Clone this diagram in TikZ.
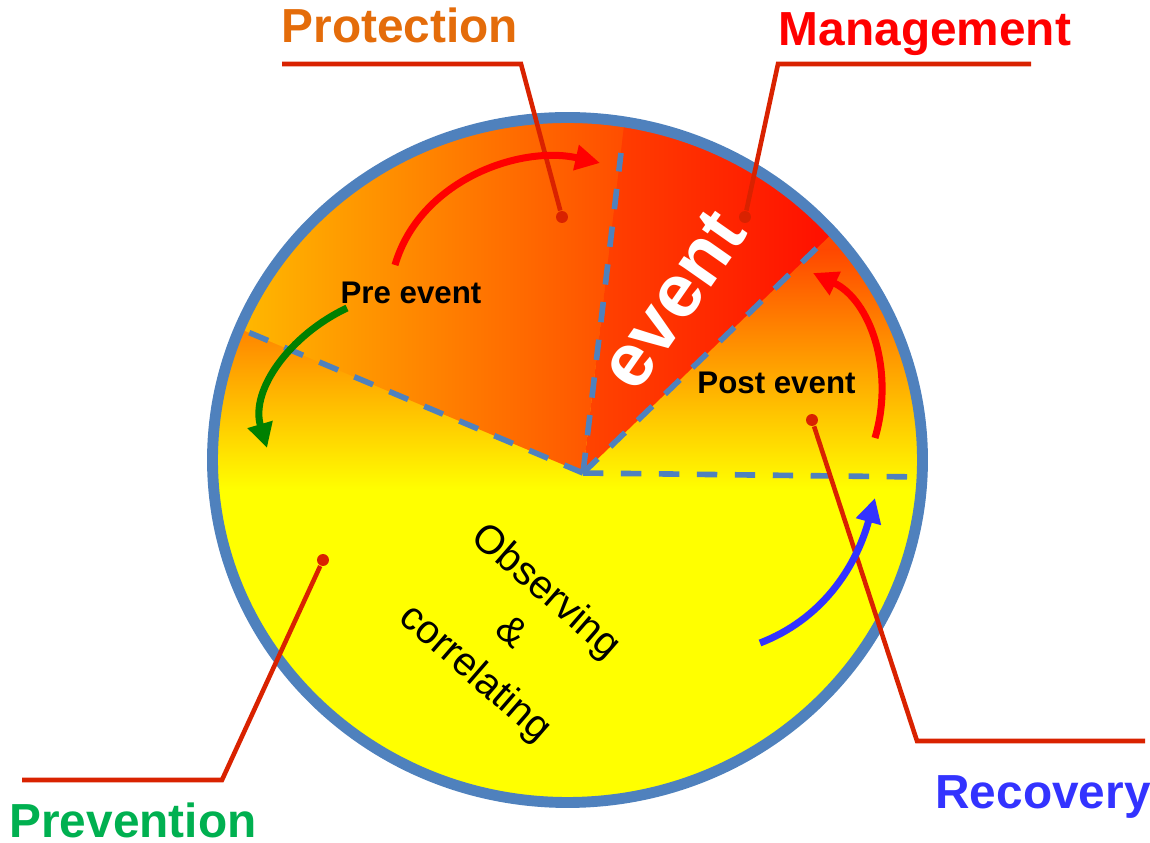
\documentclass[tikz,border=0pt]{standalone}
\usepackage{fontspec}
\setmainfont{Liberation Sans}
\usetikzlibrary{arrows.meta}
\definecolor{ringBlue}{RGB}{79,129,189}
\definecolor{leadRed}{RGB}{217,34,0}
\definecolor{protOrange}{RGB}{228,108,10}
\definecolor{prevGreen}{RGB}{0,176,80}
\definecolor{recBlue}{RGB}{51,51,255}
\definecolor{arcGreen}{RGB}{0,128,0}
\definecolor{arcRed}{RGB}{255,0,0}
\definecolor{sunYellow}{RGB}{255,255,0}
\definecolor{warmOrange}{RGB}{255,72,0}
\definecolor{wedgeLeft}{RGB}{255,184,0}
\definecolor{wedgeRight}{RGB}{255,76,0}
\definecolor{eventLeft}{RGB}{255,70,0}
\definecolor{eventRight}{RGB}{255,0,0}
\tikzset{
    divider/.style={
        draw=ringBlue,
        line width=1.6pt,
        dash pattern=on 5.8pt off 5pt
    },
    leader/.style={
        draw=leadRed,
        line width=1.3pt
    },
    pin/.style={
        circle,
        fill=leadRed,
        inner sep=0pt,
        minimum size=3.4pt
    },
    turn/.style={
        line width=2pt,
        -{Triangle[length=7pt, width=7pt]}
    },
    phase/.style={
        font=\bfseries\fontsize{13.6}{16}\selectfont,
        anchor=base,
        inner sep=0pt
    },
    stage/.style={
        font=\bfseries\fontsize{8.9}{10}\selectfont,
        anchor=base
    }
}

\begin{document}
\begin{tikzpicture}[x=0.1mm, y=-0.1mm]
    \useasboundingbox (0,0) rectangle (1150,843);

    % Disc fill
    \begin{scope}
        \clip (567.5,460) ellipse [x radius=355, y radius=342.5];
        \fill[sunYellow] (200,100) rectangle (940,820);
        \fill[warmOrange] (200,100) rectangle (940,251);
        \shade[top color=warmOrange, bottom color=sunYellow] (200,250) rectangle (940,490);
        % Pre event wedge
        \begin{scope}
            \clip (583,473) -- (150,291) -- (150,50) -- (633,50) -- cycle;
            \shade[left color=wedgeLeft, right color=wedgeRight] (240,100) rectangle (630,480);
        \end{scope}
        % Event wedge
        \begin{scope}
            \clip (583,473) -- (633,50) -- (1023,50) -- cycle;
            \shade[left color=eventLeft, right color=eventRight] (578,100) rectangle (900,480);
        \end{scope}
    \end{scope}

    % Dividers
    \coordinate (hub) at (583,473);
    \coordinate (cutW) at (243,330);
    \coordinate (cutN) at (621,153);
    \coordinate (cutNE) at (822,243);
    \coordinate (cutE) at (920,477);
    \draw[divider] (hub) -- (cutW);
    \draw[divider] (hub) -- (cutN);
    \draw[divider] (hub) -- (cutNE);
    \draw[divider] (hub) -- (cutE);

    % Ring
    \draw[ringBlue, line width=3.1pt] (567.5,460) ellipse [x radius=355, y radius=342.5];

    % Leader lines
    \node[pin] (pinProt) at (562,217) {};
    \coordinate (kneeProt) at (521,64);
    \coordinate (endProt) at (282,64);
    \draw[leader] (pinProt) -- (kneeProt) -- (endProt);

    \node[pin] (pinMan) at (745,217) {};
    \coordinate (kneeMan) at (778,64);
    \coordinate (endMan) at (1031,64);
    \draw[leader] (pinMan) -- (kneeMan) -- (endMan);

    \node[pin] (pinRec) at (812,420) {};
    \coordinate (kneeRec) at (917,741);
    \coordinate (endRec) at (1145,741);
    \draw[leader] (pinRec) -- (kneeRec) -- (endRec);

    \node[pin] (pinPrev) at (323,560) {};
    \coordinate (kneePrev) at (222,780);
    \coordinate (endPrev) at (22,780);
    \draw[leader] (pinPrev) -- (kneePrev) -- (endPrev);

    % Cycle arrows
    \draw[turn, arcRed] (395,265) .. controls (420,180) and (520,145) .. (600,163);
    \draw[turn, arcGreen] (347,308) .. controls (290,335) and (250,390) .. (267,448);
    \draw[turn, arcRed] (875,438) .. controls (895,370) and (870,300) .. (813,273);
    \draw[turn, recBlue] (760,643) .. controls (820,620) and (855,570) .. (875,498);

    % Phase labels
    \node[phase, text=protOrange] (protection) at (400,43) {Protection};
    \node[phase, text=arcRed] (management) at (925,46) {Management};
    \node[phase, text=prevGreen] (prevention) at (133,838) {Prevention};
    \node[phase, text=recBlue] (recovery) at (1043,809) {Recovery};

    % Stage labels
    \node[stage] (pre) at (411,304) {Pre event};
    \node[stage] (post) at (776.5,394) {Post event};
    \node[font=\bfseries\fontsize{21.4}{24}\selectfont, text=white, rotate=55] (event) at (673,300) {event};
    \node[font=\fontsize{11.4}{15.4}\selectfont, align=center, rotate=-41] (observe) at (510,633) {Observing\\\&\\correlating};

\end{tikzpicture}
\end{document}
